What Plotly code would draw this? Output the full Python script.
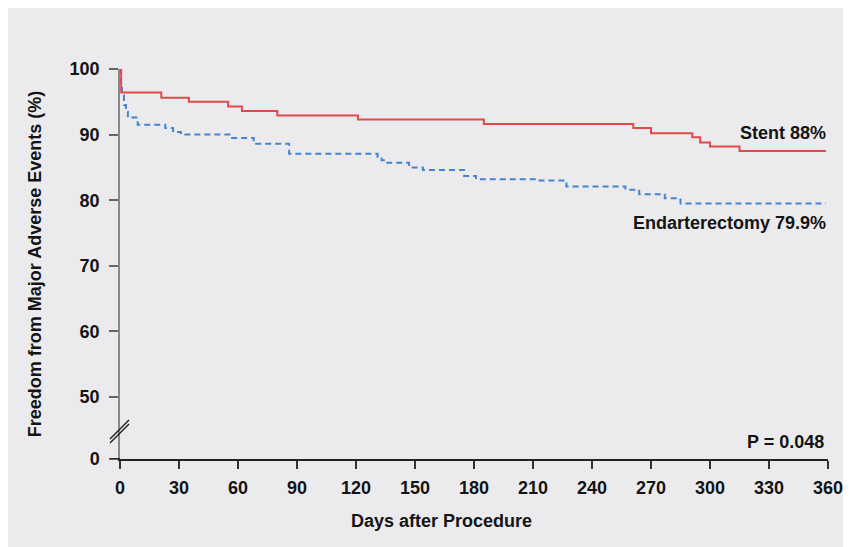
import plotly.graph_objects as go

# ---- data ----
stent_days = [0, 0.6, 21, 35, 55, 62, 80, 121, 185, 261, 270, 291, 295, 300, 315, 359]
stent_vals = [100, 96.4, 95.6, 95.0, 94.3, 93.6, 92.9, 92.3, 91.6, 91.0, 90.2, 89.6, 88.8, 88.2, 87.5, 87.5]

endo_days = [0, 0.5, 1, 2, 3, 4, 9, 23, 27, 31, 57, 68, 86, 131, 133, 135, 147, 154, 175, 181,
             212, 227, 257, 264, 277, 285, 359]
endo_vals = [100, 97.5, 96.0, 94.5, 93.5, 92.6, 91.5, 91.0, 90.4, 90.0, 89.5, 88.6, 87.1, 86.6, 86.1,
             85.7, 85.0, 84.6, 83.7, 83.2, 83.0, 82.1, 81.6, 80.9, 80.3, 79.5, 79.5]

x_ticks = [0, 30, 60, 90, 120, 150, 180, 210, 240, 270, 300, 330, 360]
y_zero_pos = 40.55  # where the broken axis shows "0"
y_tickvals = [y_zero_pos, 50, 60, 70, 80, 90, 100]
y_ticktext = ["0", "50", "60", "70", "80", "90", "100"]

stent_label = "Stent 88%"
endo_label = "Endarterectomy 79.9%"
p_label = "P = 0.048"
x_title = "Days after Procedure"
y_title = "Freedom from Major Adverse Events (%)"

FONT = "Liberation Sans, Arial, sans-serif"
TXT = "#141414"
FS = 18
BOLD = "bold"

fig = go.Figure()
fig.add_trace(go.Scatter(x=endo_days, y=endo_vals, mode="lines", line_shape="hv",
                         line=dict(color="#4683d0", width=2, dash="6px,4px"),
                         name="Endarterectomy", cliponaxis=False, showlegend=False))
fig.add_trace(go.Scatter(x=stent_days, y=stent_vals, mode="lines", line_shape="hv",
                         line=dict(color="#e4484a", width=2),
                         name="Stent", cliponaxis=False, showlegend=False))

OFF = 8  # page body margin
W, H = 851 - OFF, 547 - OFF
L = 120 - OFF
T = 69 - OFF
R = W - (828 - OFF)
B = H - (459 - OFF)
pw, ph = W - L - R, H - T - B


def px_x(p):  # screen pixel -> paper x
    return (p - OFF - L) / pw


def px_y(p):  # screen pixel -> paper y
    return (H - B - (p - OFF)) / ph


shapes = [
    dict(type="rect", xref="paper", yref="paper", x0=px_x(8), x1=px_x(851), y0=px_y(547), y1=px_y(8),
         fillcolor="#ebebee", line=dict(width=0), layer="below"),
    dict(type="line", xref="paper", yref="y", x0=px_x(110), x1=0, y0=y_zero_pos, y1=y_zero_pos,
         line=dict(color="#222", width=2)),
]
for off in (0, 4):
    shapes.append(dict(type="line", xref="paper", yref="paper",
                       x0=px_x(110), y0=px_y(443 - off), x1=px_x(129), y1=px_y(424 - off),
                       line=dict(color="#222", width=1.5)))

tf = dict(size=FS, color=TXT, weight=BOLD)

fig.update_layout(
    width=W, height=H,
    margin=dict(l=L, r=R, t=T, b=B, autoexpand=False),
    paper_bgcolor="white", plot_bgcolor="rgba(0,0,0,0)",
    font=dict(family=FONT, size=FS, color=TXT),
    shapes=shapes,
    xaxis=dict(range=[0, 360], tickvals=x_ticks, ticks="outside", ticklen=8, tickwidth=1.5,
               tickcolor="#333", showline=True, linecolor="#222", linewidth=2,
               showgrid=False, zeroline=False, tickfont=tf, ticklabelstandoff=3),
    yaxis=dict(range=[y_zero_pos, 100], tickvals=y_tickvals, ticktext=y_ticktext,
               ticks="outside", ticklen=9, tickwidth=1.5, tickcolor="#666",
               showline=True, linecolor="#888", linewidth=1.5, showgrid=False, zeroline=False,
               tickfont=tf, ticklabelstandoff=6,
               title=dict(text=y_title, font=tf, standoff=23)),
    annotations=[
        dict(text=stent_label, xref="paper", yref="y", x=px_x(828), y=90.24, xanchor="right",
             yanchor="middle", showarrow=False, font=tf),
        dict(text=endo_label, xref="paper", yref="y", x=px_x(828), y=76.6, xanchor="right",
             yanchor="middle", showarrow=False, font=tf),
        dict(text=p_label, xref="paper", yref="y", x=px_x(826), y=43.2, xanchor="right",
             yanchor="middle", showarrow=False, font=tf),
        dict(text=x_title, xref="paper", yref="paper", x=px_x(441.5), y=px_y(521), xanchor="center",
             yanchor="middle", showarrow=False, font=tf),
    ],
)

fig.write_html("out.html")
